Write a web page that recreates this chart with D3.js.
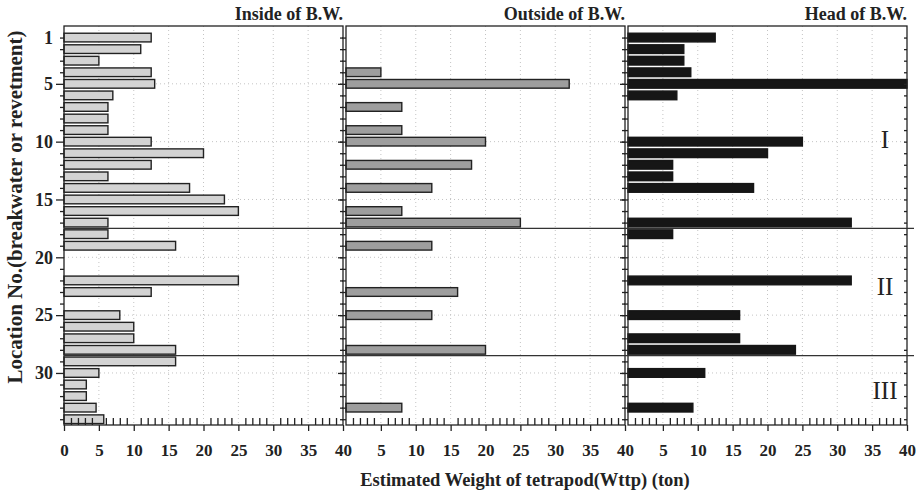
<!DOCTYPE html>
<html>
<head>
<meta charset="utf-8">
<script src="https://cdn.jsdelivr.net/npm/d3@7"></script>
<style>
  body { margin: 0; background: #fff; }
  text { font-family: "Liberation Serif", "Times New Roman", serif; }
</style>
</head>
<body>
<script>
// location numbers along the breakwater / revetment
var locations = [1, 2, 3, 4, 5, 6, 7, 8, 9, 10, 11, 12, 13, 14, 15, 16, 17,
                 18, 19, 20, 21, 22, 23, 24, 25, 26, 27, 28, 29, 30, 31, 32, 33, 34];

// estimated tetrapod weight (ton), null = no data
var inside  = [12.5, 11, 5, 12.5, 13, 7, 6.3, 6.3, 6.3, 12.5, 20, 12.5, 6.3, 18, 23, 25, 6.3,
               6.3, 16, null, null, 25, 12.5, null, 8, 10, 10, 16, 16, 5, 3.2, 3.2, 4.6, 5.7];
var outside = [null, null, null, 5, 32, null, 8, null, 8, 20, null, 18, null, 12.3, null, 8, 25,
               null, 12.3, null, null, null, 16, null, 12.3, null, null, 20, null, null, null, null, 8, null];
var head    = [12.5, 8, 8, 9, 40, 7, null, null, null, 25, 20, 6.4, 6.4, 18, null, null, 32,
               6.4, null, null, null, 32, null, null, 16, null, 16, 24, null, 11, null, null, 9.3, null];

var panelTitles = ["Inside of B.W.", "Outside of B.W.", "Head of B.W."];
var yTickLabels = [1, 5, 10, 15, 20, 25, 30];
var zoneBreaks = [17.5, 28.5];
var zoneNames = ["I", "II", "III"];
var zoneLabelAt = [9.8, 22.5, 31.5];

var W = 916, H = 492;
var plotTop = 26, plotBottom = 425, left0 = 64, pw = 279, gap = 3;

var svg = d3.select("body").append("svg")
    .attr("width", W)
    .attr("height", H);

var y = d3.scaleLinear().domain([0, 34.5]).range([plotTop, plotBottom]);
var step = y(1) - y(0);
var barH = step * 0.75;

var panels = [
  {title: panelTitles[0], values: inside,  fill: "#d3d3d3", stroke: "#222"},
  {title: panelTitles[1], values: outside, fill: "#9e9e9e", stroke: "#222"},
  {title: panelTitles[2], values: head,    fill: "#161616", stroke: "#161616"}
];

panels.forEach(function(p, i) {
  var x0 = left0 + i * (pw + gap);
  var x = d3.scaleLinear().domain([0, 40]).range([x0, x0 + pw]);
  var g = svg.append("g");

  // dotted grid
  g.selectAll(".vgrid")
      .data([5, 10, 15, 20, 25, 30, 35])
      .enter().append("line")
      .attr("x1", function(d) { return x(d); })
      .attr("x2", function(d) { return x(d); })
      .attr("y1", plotTop)
      .attr("y2", plotBottom)
      .attr("stroke", "#c4c4c4")
      .attr("stroke-dasharray", "1,3");
  g.selectAll(".hgrid")
      .data([5, 10, 15, 20, 25, 30])
      .enter().append("line")
      .attr("x1", x0)
      .attr("x2", x0 + pw)
      .attr("y1", function(d) { return y(d); })
      .attr("y2", function(d) { return y(d); })
      .attr("stroke", "#c4c4c4")
      .attr("stroke-dasharray", "1,3");

  // bars
  var rows = locations.map(function(l, k) { return {loc: l, v: p.values[k]}; })
      .filter(function(d) { return d.v != null; });
  g.selectAll("rect")
      .data(rows)
      .enter().append("rect")
      .attr("x", x(0))
      .attr("y", function(d) { return y(d.loc) - barH / 2; })
      .attr("width", function(d) { return x(d.v) - x(0); })
      .attr("height", barH)
      .attr("fill", p.fill)
      .attr("stroke", p.stroke)
      .attr("stroke-width", 1.4);

  // frame
  g.append("rect")
      .attr("x", x0)
      .attr("y", plotTop)
      .attr("width", pw)
      .attr("height", plotBottom - plotTop)
      .attr("fill", "none")
      .attr("stroke", "#222")
      .attr("stroke-width", 1.3);

  // left axis, ticks outward
  var yl = g.append("g").attr("transform", "translate(" + x0 + ",0)")
      .call(d3.axisLeft(y).tickValues(locations).tickSize(4).tickFormat(""));
  yl.selectAll(".tick line")
      .attr("x2", function(d) { return d % 5 === 0 ? -8 : -4; })
      .attr("stroke", "#222").attr("stroke-width", 1.3);
  yl.select(".domain").remove();

  // right axis, ticks inward
  var yr = g.append("g").attr("transform", "translate(" + (x0 + pw) + ",0)")
      .call(d3.axisLeft(y).tickValues(locations).tickSize(3).tickFormat(""));
  yr.selectAll(".tick line").attr("stroke", "#222").attr("stroke-width", 1.3);
  yr.select(".domain").remove();

  // bottom axis: minor ticks inward, major outward
  var minor = d3.range(1, 40).filter(function(d) { return d % 5 !== 0; });
  var xm = g.append("g").attr("transform", "translate(0," + plotBottom + ")")
      .call(d3.axisTop(x).tickValues(minor).tickSize(7).tickFormat(""));
  xm.selectAll(".tick line").attr("stroke", "#222").attr("stroke-width", 1.3);
  xm.select(".domain").remove();

  var majors = i === 0 ? [0, 5, 10, 15, 20, 25, 30, 35, 40] : [5, 10, 15, 20, 25, 30, 35, 40];
  var xa = g.append("g").attr("transform", "translate(0," + plotBottom + ")")
      .call(d3.axisBottom(x).tickValues(majors).tickSize(6).tickPadding(13));
  xa.select(".domain").remove();
  xa.selectAll(".tick line").attr("stroke", "#222").attr("stroke-width", 1.3);
  xa.selectAll("text")
      .attr("fill", "#222")
      .style("font-family", "Liberation Serif")
      .style("font-weight", "bold")
      .style("font-size", "17px");

  // panel title
  svg.append("text")
      .attr("x", x0 + pw)
      .attr("y", 20)
      .attr("text-anchor", "end")
      .style("font-weight", "bold")
      .style("font-size", "18px")
      .attr("fill", "#222")
      .text(p.title);

  if (i === 0) {
    var yt = g.append("g").attr("transform", "translate(" + x0 + ",0)")
        .call(d3.axisLeft(y).tickValues(yTickLabels).tickSize(0).tickPadding(11));
    yt.select(".domain").remove();
    yt.selectAll("text")
        .attr("fill", "#222")
        .style("font-family", "Liberation Serif")
        .style("font-weight", "bold")
        .style("font-size", "18px");
  }
});

var xEnd = left0 + 3 * pw + 2 * gap;

// zone separators
svg.selectAll(".zone")
    .data(zoneBreaks)
    .enter().append("line")
    .attr("x1", left0)
    .attr("x2", W - 2)
    .attr("y1", function(d) { return y(d); })
    .attr("y2", function(d) { return y(d); })
    .attr("stroke", "#333")
    .attr("stroke-width", 1.3);

// zone labels
svg.selectAll(".zlabel")
    .data(zoneNames)
    .enter().append("text")
    .attr("x", xEnd - 22)
    .attr("y", function(d, k) { return y(zoneLabelAt[k]); })
    .attr("dy", "0.34em")
    .attr("text-anchor", "middle")
    .style("font-size", "25px")
    .attr("fill", "#222")
    .text(function(d) { return d; });

// axis titles
svg.append("text")
    .attr("transform", "translate(22," + 207 + ") rotate(-90)")
    .attr("text-anchor", "middle")
    .style("font-weight", "bold")
    .style("font-size", "21px")
    .attr("fill", "#222")
    .text("Location No.(breakwater or revetment)");

svg.append("text")
    .attr("x", 525)
    .attr("y", 486)
    .attr("text-anchor", "middle")
    .style("font-weight", "bold")
    .style("font-size", "18.5px")
    .attr("fill", "#222")
    .text("Estimated Weight of tetrapod(Wttp) (ton)");
</script>
</body>
</html>
